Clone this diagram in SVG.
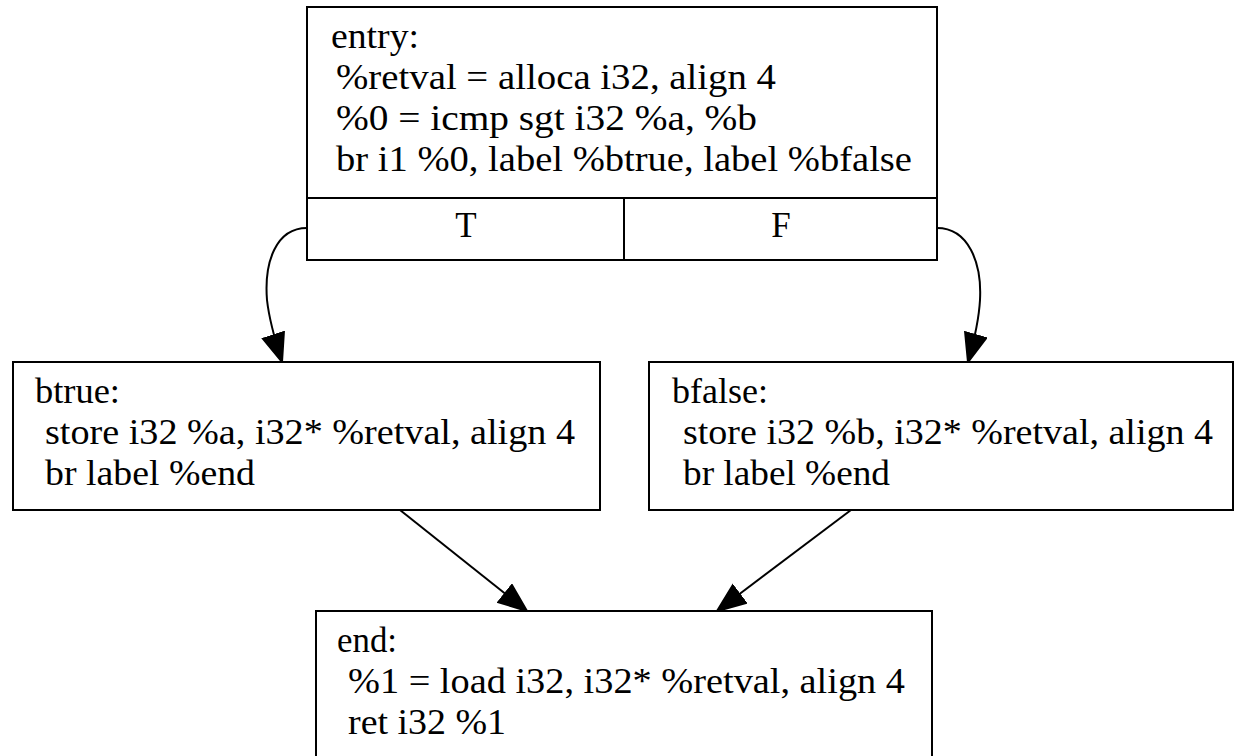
<svg xmlns="http://www.w3.org/2000/svg" width="1238" height="756" viewBox="0 0 1238 756">
<style>
.box{fill:#fff;stroke:#000;stroke-width:2}
.t{font-family:"Liberation Serif","Times New Roman",serif;font-size:35px;fill:#000}
.c{text-anchor:middle}
.e{fill:none;stroke:#000;stroke-width:2}
</style>
<defs>
<marker id="ah" markerUnits="userSpaceOnUse" markerWidth="32" markerHeight="26" refX="29" refY="12" orient="auto" viewBox="0 0 32 26">
<polygon points="1,1 29,12 1,23" fill="#000" stroke="#000" stroke-width="2"/>
</marker>
</defs>
<rect width="1238" height="756" fill="#fff"/>
<g id="connectors">
<path class="e" d="M307,228 C276,228 264,262 267,300 C269,318 273,334 282,362" marker-end="url(#ah)"/>
<path class="e" d="M937,228 C968,228 982,262 980,300 C979,318 976,334 968,362" marker-end="url(#ah)"/>
<path class="e" d="M400,510 L527,611" marker-end="url(#ah)"/>
<path class="e" d="M851,510 L717,611" marker-end="url(#ah)"/>
</g>
<g id="entry">
<rect class="box" x="307" y="7" width="630" height="253"/>
<line class="box" x1="307" y1="198" x2="937" y2="198"/>
<line class="box" x1="624" y1="198" x2="624" y2="260"/>
<text class="t" x="331" y="48" textLength="88" lengthAdjust="spacingAndGlyphs">entry:</text>
<text class="t" x="336" y="89" textLength="440" lengthAdjust="spacingAndGlyphs">%retval = alloca i32, align 4</text>
<text class="t" x="336" y="130" textLength="421" lengthAdjust="spacingAndGlyphs">%0 = icmp sgt i32 %a, %b</text>
<text class="t" x="336" y="171" textLength="576" lengthAdjust="spacingAndGlyphs">br i1 %0, label %btrue, label %bfalse</text>
<text class="t c" x="466" y="237">T</text>
<text class="t c" x="781" y="237">F</text>
</g>
<g id="btrue">
<rect class="box" x="13" y="362" width="587" height="148"/>
<text class="t" x="35" y="403" textLength="85" lengthAdjust="spacingAndGlyphs">btrue:</text>
<text class="t" x="45" y="444" textLength="530" lengthAdjust="spacingAndGlyphs">store i32 %a, i32* %retval, align 4</text>
<text class="t" x="45" y="485" textLength="210" lengthAdjust="spacingAndGlyphs">br label %end</text>
</g>
<g id="bfalse">
<rect class="box" x="649" y="362" width="584" height="148"/>
<text class="t" x="672" y="403" textLength="96" lengthAdjust="spacingAndGlyphs">bfalse:</text>
<text class="t" x="683" y="444" textLength="530" lengthAdjust="spacingAndGlyphs">store i32 %b, i32* %retval, align 4</text>
<text class="t" x="683" y="485" textLength="207" lengthAdjust="spacingAndGlyphs">br label %end</text>
</g>
<g id="end">
<rect class="box" x="316" y="611" width="616" height="150"/>
<text class="t" x="337" y="652" textLength="60" lengthAdjust="spacingAndGlyphs">end:</text>
<text class="t" x="348" y="693" textLength="557" lengthAdjust="spacingAndGlyphs">%1 = load i32, i32* %retval, align 4</text>
<text class="t" x="348" y="734" textLength="158" lengthAdjust="spacingAndGlyphs">ret i32 %1</text>
</g>
</svg>
